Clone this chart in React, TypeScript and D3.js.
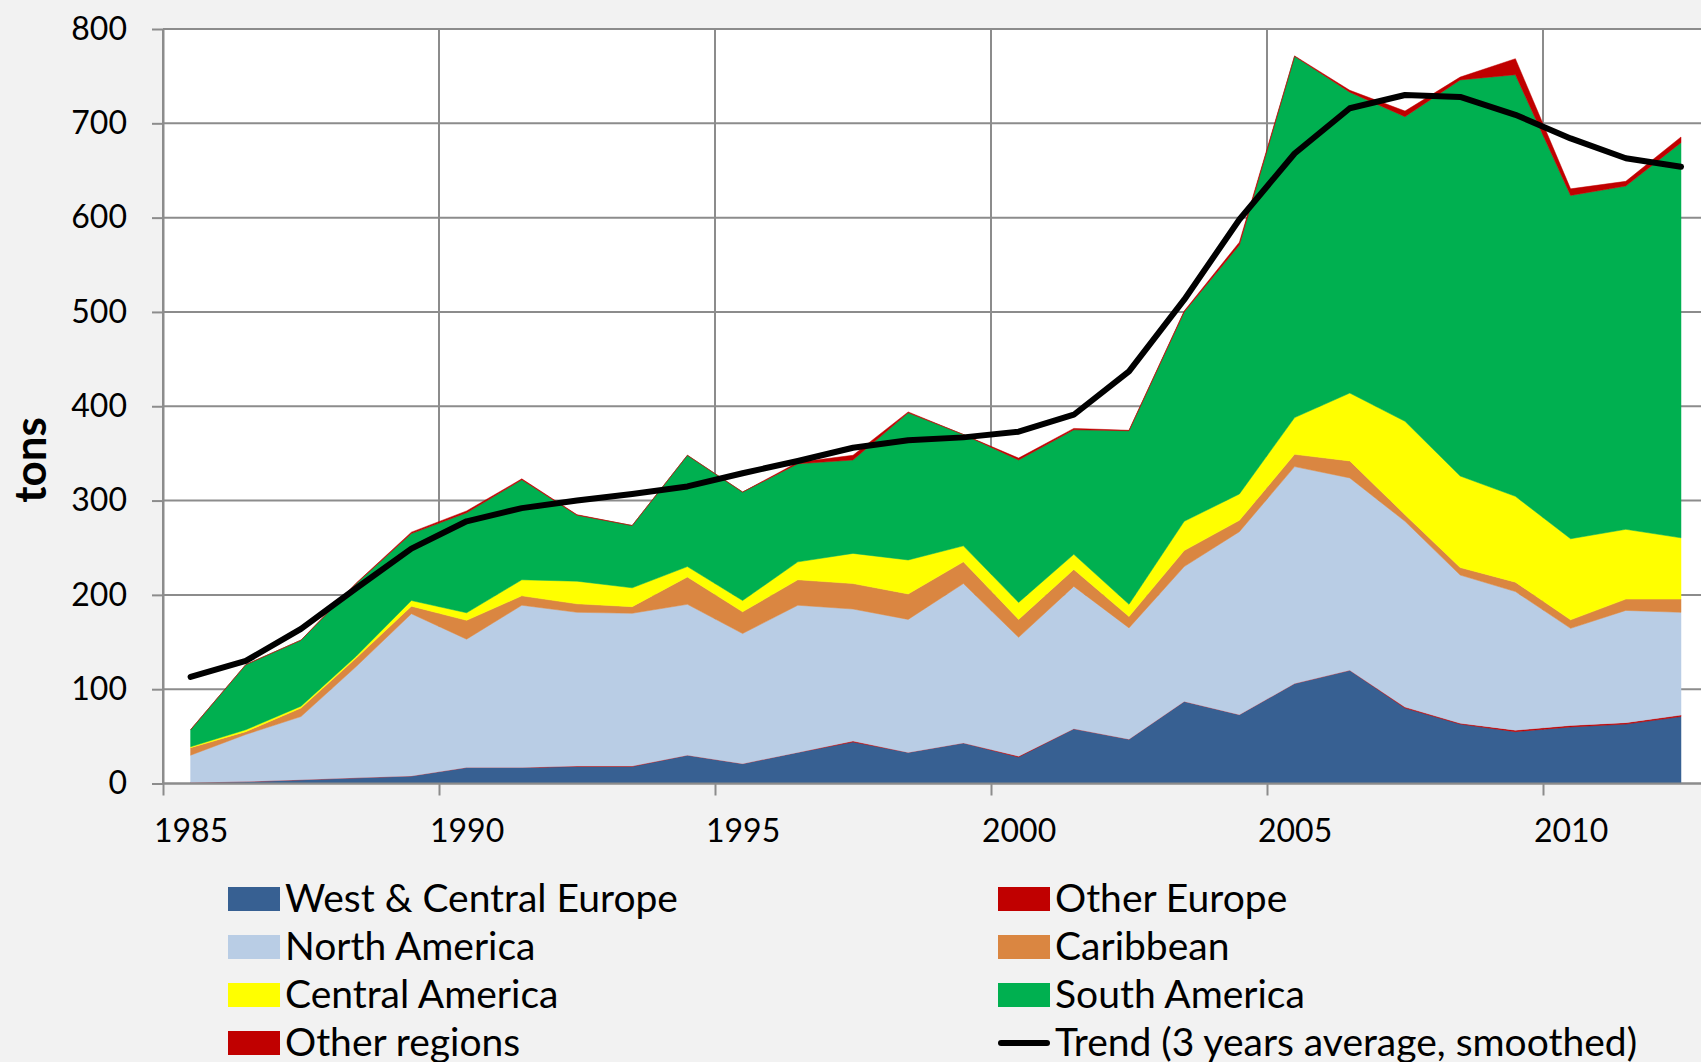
import React, { useEffect, useRef } from "react";
import * as d3 from "d3";

// years on the category axis
const years = [
  1985, 1986, 1987, 1988, 1989, 1990, 1991, 1992, 1993, 1994, 1995, 1996, 1997, 1998,
  1999, 2000, 2001, 2002, 2003, 2004, 2005, 2006, 2007, 2008, 2009, 2010, 2011, 2012,
];

// tons per region (stacked, bottom to top)
const westCentralEurope = [1, 2, 4, 6, 8, 17, 17, 18, 18, 30, 21, 33, 44, 33, 43, 28, 58, 47, 87, 73, 106, 120, 80, 63, 55, 60, 63, 71];
const otherEurope = [0, 0, 0, 0, 0, 0, 0, 0.5, 0.5, 0, 0, 0, 1, 0, 0, 1, 0, 0, 0, 0, 0, 0, 1, 1, 1.5, 1.5, 1.5, 1.5];
const northAmerica = [29, 50, 67, 118, 172, 136, 172, 163, 162, 160, 138, 156, 140, 141, 169, 126, 151, 118, 143, 194, 230, 204, 197, 157, 147, 103, 119, 109];
const caribbean = [8, 3, 9, 9, 8, 20, 10, 9, 7, 29, 23, 27, 27, 27, 23, 19, 18, 12, 17, 12, 13, 18, 7, 8, 10, 9, 12, 14];
const centralAmerica = [1, 2, 2, 2, 6, 8, 17, 24, 20, 11, 12, 19, 32, 36, 17, 18, 16, 13, 31, 28, 39, 72, 99, 97, 91, 86, 74, 65];
const southAmerica = [18, 69, 70, 77, 71, 106, 106, 70, 66, 118, 115, 104, 99, 156, 118, 151, 132, 184, 222, 264, 383, 319, 323, 420, 447, 364, 364, 419];
const otherRegions = [0, 0, 0, 0.5, 1.5, 2, 1, 0.5, 0, 0, 0, 1.5, 5, 1, 0, 2, 1.5, 0.5, 1, 3, 0.5, 2, 6, 3, 17, 7, 5, 6];

// trend (3 years average, smoothed)
const trend = [113, 130, 164, 207, 249, 278, 292, 300, 307, 315, 329, 342, 356, 364, 367, 373, 391, 437, 513, 598, 668, 716, 730, 728, 709, 684, 663, 654];

const yTicks = [0, 100, 200, 300, 400, 500, 600, 700, 800];
const xLabelYears = [1985, 1990, 1995, 2000, 2005, 2010];
const xGridYears = [1984.5, 1989.5, 1994.5, 1999.5, 2004.5, 2009.5];

const seriesNames = [
  "West & Central Europe",
  "Other Europe",
  "North America",
  "Caribbean",
  "Central America",
  "South America",
  "Other regions",
];
const seriesColors = ["#376092", "#C00000", "#B9CDE5", "#DA8641", "#FFFF00", "#00B050", "#C00000"];
const seriesValues = [westCentralEurope, otherEurope, northAmerica, caribbean, centralAmerica, southAmerica, otherRegions];

const W = 1701;
const H = 1062;
const FONT = "Lato, 'Open Sans', sans-serif";

const Chart = () => {
  const svgRef = useRef<SVGSVGElement>(null);

  useEffect(() => {
    const svg = d3.select(svgRef.current);
    svg.selectAll("*").remove();

    const x = d3.scaleLinear().domain([1984.5, 2012.5]).range([163, 1708.6]);
    const y = d3.scaleLinear().domain([0, 800]).range([783.5, 29]);

    svg.append("rect").attr("width", W).attr("height", H).attr("fill", "#F2F2F2");

    // plot area
    svg
      .append("rect")
      .attr("x", x(1984.5))
      .attr("y", y(800))
      .attr("width", W - x(1984.5))
      .attr("height", y(0) - y(800))
      .attr("fill", "#FFFFFF");

    const gridColor = "#8C8C8C";
    const grid = svg.append("g");
    grid
      .selectAll("line.h")
      .data(yTicks)
      .join("line")
      .attr("x1", x(1984.5))
      .attr("x2", W)
      .attr("y1", (d) => y(d))
      .attr("y2", (d) => y(d))
      .attr("stroke", gridColor)
      .attr("stroke-width", 2);
    grid
      .selectAll("line.v")
      .data(xGridYears)
      .join("line")
      .attr("x1", (d) => x(d))
      .attr("x2", (d) => x(d))
      .attr("y1", y(800))
      .attr("y2", y(0))
      .attr("stroke", gridColor)
      .attr("stroke-width", 2);

    // stacked areas
    const table = years.map((yr, i) => {
      const row: Record<string, number> = { year: yr };
      seriesNames.forEach((name, k) => {
        row[name] = seriesValues[k][i];
      });
      return row;
    });
    const stacked = d3.stack<Record<string, number>>().keys(seriesNames)(table);

    const area = d3
      .area<d3.SeriesPoint<Record<string, number>>>()
      .x((d) => x(d.data.year))
      .y0((d) => y(d[0]))
      .y1((d) => y(d[1]));

    svg
      .append("g")
      .selectAll("path")
      .data(stacked)
      .join("path")
      .attr("d", area)
      .attr("fill", (_, i) => seriesColors[i])
      .attr("stroke", (_, i) => seriesColors[i])
      .attr("stroke-width", 0.5);

    // trend line
    const line = d3
      .line<number>()
      .x((_, i) => x(years[i]))
      .y((d) => y(d));
    svg
      .append("path")
      .datum(trend)
      .attr("d", line)
      .attr("fill", "none")
      .attr("stroke", "#000000")
      .attr("stroke-width", 6)
      .attr("stroke-linecap", "round")
      .attr("stroke-linejoin", "round");

    // y axis
    const yAxis = svg
      .append("g")
      .attr("transform", `translate(${x(1984.5)},0)`)
      .call(d3.axisLeft(y).tickValues(yTicks).tickSize(11).tickPadding(25).tickSizeOuter(0));
    yAxis.select(".domain").attr("stroke", gridColor).attr("stroke-width", 2);
    yAxis.selectAll(".tick line").attr("stroke", gridColor).attr("stroke-width", 2);
    yAxis
      .selectAll(".tick text")
      .attr("fill", "#000")
      .style("font-family", FONT)
      .style("font-size", "32px");

    // x axis: tick marks at 5-year boundaries
    const xAxis = svg
      .append("g")
      .attr("transform", `translate(0,${y(0)})`)
      .call(d3.axisBottom(x).tickValues(xGridYears).tickSize(12).tickFormat(() => "").tickSizeOuter(0));
    xAxis.select(".domain").attr("stroke", gridColor).attr("stroke-width", 2).attr("d", `M${x(1984.5)},0H${W}`);
    xAxis.selectAll(".tick line").attr("stroke", gridColor).attr("stroke-width", 2);

    const xLabels = svg
      .append("g")
      .attr("transform", `translate(0,${y(0)})`)
      .call(d3.axisBottom(x).tickValues(xLabelYears).tickSize(0).tickPadding(36).tickFormat(d3.format("d")));
    xLabels.select(".domain").remove();
    xLabels
      .selectAll(".tick text")
      .attr("fill", "#000")
      .style("font-family", FONT)
      .style("font-size", "32px");

    // y axis title
    svg
      .append("text")
      .attr("transform", `translate(46,460) rotate(-90)`)
      .attr("text-anchor", "middle")
      .style("font-family", FONT)
      .style("font-size", "44px")
      .style("font-weight", "bold")
      .text("tons");

    // legend
    const legendItems = [...seriesNames.map((n, i) => ({ name: n, color: seriesColors[i], line: false }))];
    legendItems.push({ name: "Trend (3 years average, smoothed)", color: "#000000", line: true });
    const colX = [228, 998];
    const rowY = [899, 947, 995, 1043];
    const legend = svg.append("g");
    legendItems.forEach((item, i) => {
      const cx = colX[i % 2];
      const cy = rowY[Math.floor(i / 2)];
      if (item.line) {
        legend
          .append("line")
          .attr("x1", cx + 3)
          .attr("x2", cx + 49)
          .attr("y1", cy)
          .attr("y2", cy)
          .attr("stroke", item.color)
          .attr("stroke-width", 6)
          .attr("stroke-linecap", "round");
      } else {
        legend
          .append("rect")
          .attr("x", cx)
          .attr("y", cy - 12)
          .attr("width", 52)
          .attr("height", 24)
          .attr("fill", item.color);
      }
      legend
        .append("text")
        .attr("x", cx + 57)
        .attr("y", cy + 13)
        .style("font-family", FONT)
        .style("font-size", "39px")
        .attr("fill", "#000")
        .text(item.name);
    });
  }, []);

  return <svg ref={svgRef} width={W} height={H} style={{ position: "absolute", left: 0, top: 0, display: "block" }} />;
};

export default function App() {
  return <Chart />;
}
